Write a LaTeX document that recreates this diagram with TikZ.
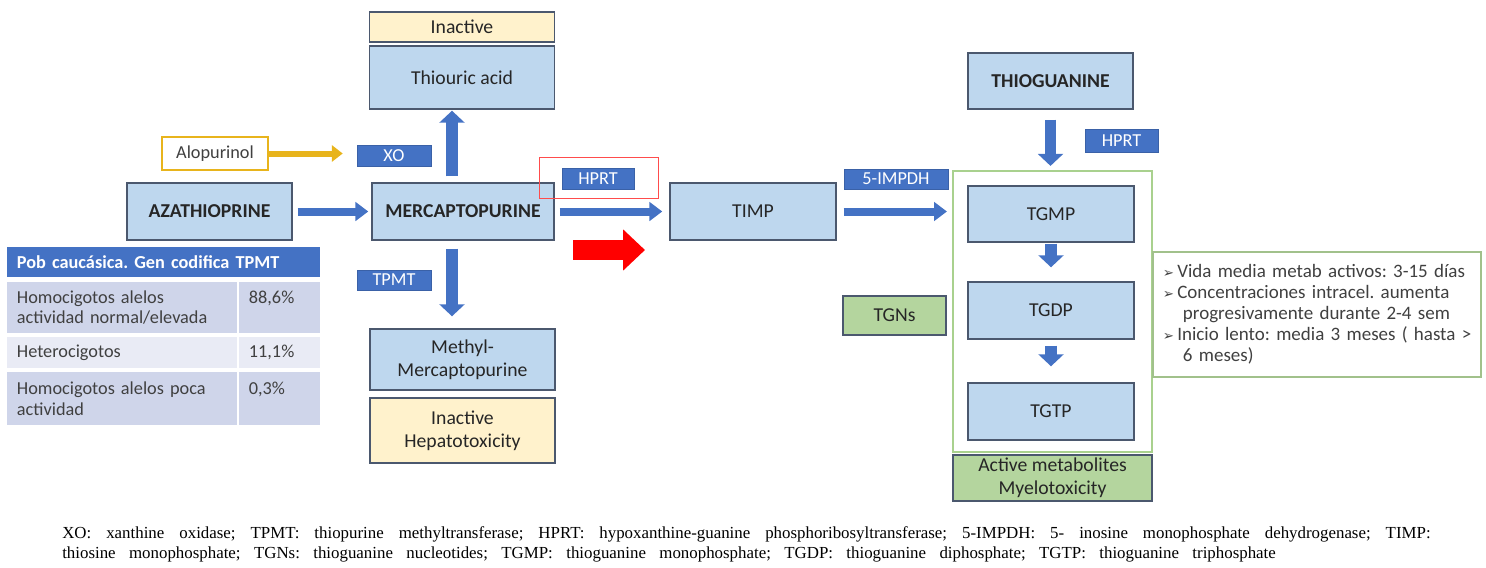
\documentclass[tikz,border=0pt]{standalone}
\usepackage{fontspec}
\setmainfont{Carlito}
\newfontfamily\notefont{Liberation Serif}
\newfontfamily\symfont{DejaVu Sans}
\usetikzlibrary{arrows.meta, positioning}
\definecolor{boxblue}{RGB}{190, 215, 238}
\definecolor{tagblue}{RGB}{68, 114, 196}
\definecolor{inactbg}{RGB}{255, 242, 204}
\definecolor{tgnfill}{RGB}{180, 213, 158}
\definecolor{framegreen}{RGB}{169, 209, 142}
\definecolor{edgegray}{RGB}{75, 88, 110}
\definecolor{alogold}{RGB}{232, 180, 28}
\definecolor{rowdark}{RGB}{207, 213, 234}
\definecolor{rowlight}{RGB}{233, 235, 245}
\frenchspacing

\begin{document}
\begin{tikzpicture}[x=0.025cm, y=-0.025cm,
  metab/.style={draw=edgegray, fill=boxblue, line width=1pt, inner sep=0pt, align=center, text=black!85, font=\fontsize{14}{16.5}\selectfont},
  inact/.style={metab, fill=inactbg},
  tgnbox/.style={metab, fill=tgnfill},
  enz/.style={draw=tagblue!85!black, fill=tagblue, text=white, inner sep=0pt, font=\fontsize{13}{13}\selectfont},
  flow/.style={draw=tagblue, line width=0.2cm, -{Triangle[length=0.32cm, width=0.46cm]}},
  vflow/.style={draw=tagblue, line width=0.28cm, -{Triangle[length=0.3cm, width=0.62cm]}},
  cell/.style={anchor=north west, inner xsep=0.24cm, inner ysep=0pt, align=left, text=black!75, font=\fontsize{13}{14.5}\selectfont}]
  \useasboundingbox (0,0) rectangle (1486,567);

  % xanthine oxidase branch
  \node[inact, minimum width=4.625cm, minimum height=0.75cm] (inact) at (462,27) {Inactive};
  \node[metab, minimum width=4.625cm, minimum height=1.575cm] (thiou) at (462,77.5) {Thiouric acid};
  \node[draw=alogold, fill=white, line width=0.8pt, minimum width=2.65cm, minimum height=0.825cm, text=black!75, font=\fontsize{13}{13}\selectfont] (alop) at (215,153.5) {Alopurinol};
  \node[enz, minimum width=1.85cm, minimum height=0.525cm] (xo) at (394,155.5) {XO};
  \draw[draw=alogold, line width=0.15cm, -{Triangle[length=0.27cm, width=0.4cm]}, shorten >=0.35cm] (alop.east) -- (alop.east -| xo.west);

  % main line
  \node[metab, font=\fontsize{14}{16.5}\selectfont\bfseries, minimum width=4.125cm, minimum height=1.425cm] (aza) at (209.5,211.5) {AZATHIOPRINE};
  \node[metab, font=\fontsize{14}{16.5}\selectfont\bfseries, minimum width=4.55cm, minimum height=1.425cm] (merc) at (463,211.5) {MERCAPTOPURINE};
  \node[metab, minimum width=4.15cm, minimum height=1.425cm] (timp) at (753,211.5) {TIMP};
  \draw[flow, shorten <=0.125cm, shorten >=0.075cm] (aza) -- (merc);
  \draw[flow, shorten <=0.125cm, shorten >=0.175cm] (merc) -- (timp);
  \draw[vflow, shorten <=0.15cm, shorten >=0.025cm] ([xshift=-0.275cm]merc.north) -- ([xshift=-0.275cm]merc.north |- thiou.south);
  \node[draw=red!70, line width=0.6pt, minimum width=2.975cm, minimum height=1.025cm] (hframe) at (598.5,177.5) {};
  \node[enz, minimum width=1.8cm, minimum height=0.525cm] (hprt) at (598,178.5) {HPRT};
  \draw[red, line width=0.5cm, -{Triangle[length=0.55cm, width=1.0cm]}] (573,250) -- (645,250);
  \node[enz, minimum width=2.6cm, minimum height=0.5cm] (impdh) at (896,179) {5-IMPDH};

  % TPMT branch
  \node[enz, minimum width=1.85cm, minimum height=0.5cm] (tpmt) at (394,280) {TPMT};
  \node[metab, minimum width=4.625cm, minimum height=1.525cm] (methyl) at (462.5,359.5) {Methyl-\\Mercaptopurine};
  \node[inact, minimum width=4.625cm, minimum height=1.625cm] (hepat) at (462.5,430.5) {Inactive\\Hepatotoxicity};
  \draw[vflow, shorten <=0.2cm, shorten >=0.3cm] ([xshift=-0.275cm]merc.south) -- ([xshift=-0.275cm]merc.south |- methyl.north);

  % thioguanine nucleotides
  \node[draw=framegreen, line width=1.5pt, minimum width=4.975cm, minimum height=7.025cm] (tgnframe) at (1052.5,311.5) {};
  \node[metab, font=\fontsize{14}{16.5}\selectfont\bfseries, minimum width=4.125cm, minimum height=1.4cm] (thiog) at (1050.5,81) {THIOGUANINE};
  \node[enz, minimum width=1.825cm, minimum height=0.575cm] (hprtb) at (1121.5,140.5) {HPRT};
  \node[metab, minimum width=4.15cm, minimum height=1.4cm] (tgmp) at (1051,214) {TGMP};
  \node[metab, minimum width=4.15cm, minimum height=1.425cm] (tgdp) at (1051,310.5) {TGDP};
  \node[metab, minimum width=4.15cm, minimum height=1.425cm] (tgtp) at (1051,411.5) {TGTP};
  \node[tgnbox, minimum width=2.575cm, minimum height=0.975cm] (tgns) at (894.5,315.5) {TGNs};
  \node[tgnbox, minimum width=4.975cm, minimum height=1.15cm] (active) at (1052.5,478) {Active metabolites\\Myelotoxicity};
  \draw[flow, shorten <=0.175cm, shorten >=0.125cm] (timp.east) -- (timp.east -| tgnframe.west);
  \draw[vflow, shorten <=0.25cm, shorten >=0.1cm] (thiog) -- (tgnframe.north -| thiog);
  \draw[vflow, shorten <=0.025cm, shorten >=0.35cm] (tgmp) -- (tgdp);
  \draw[vflow, shorten <=0.15cm, shorten >=0.4cm] (tgdp) -- (tgtp);

  % kinetics notes
  \node[draw=framegreen!80!gray, line width=0.8pt, fill=white, minimum width=8.2cm, minimum height=3.125cm, text width=7.9cm, inner xsep=0.15cm, align=left, text=black!75, font=\fontsize{13.5}{15}\selectfont] (notes) at (1317,314.5) {%
    \hspace*{0.1cm}{\symfont\fontsize{9.5}{9.5}\selectfont ➢}\,Vida media metab activos: 3-15 días\\
    \hspace*{0.1cm}{\symfont\fontsize{9.5}{9.5}\selectfont ➢}\,Concentraciones intracel. aumenta\\
    \hspace*{0.6cm}progresivamente durante 2-4 sem\\
    \hspace*{0.1cm}{\symfont\fontsize{9.5}{9.5}\selectfont ➢}\,Inicio lento: media 3 meses ( hasta >\\
    \hspace*{0.6cm}6 meses)};

  % TPMT table
  \node[cell, fill=tagblue, text=white, font=\fontsize{13}{14.5}\selectfont\bfseries, minimum width=7.825cm, minimum height=0.75cm, text width=7.345cm] (thead) at (7,247) {Pob caucásica. Gen codifica TPMT};
  \node[cell, fill=rowdark, minimum width=5.75cm, minimum height=1.275cm, text width=5.27cm] (r1a) at (7,282) {Homocigotos alelos\\actividad normal/elevada};
  \node[cell, fill=rowdark, minimum width=2.025cm, minimum height=1.275cm, text width=1.545cm] (r1b) at (239,282) {88,6\%\\\mbox{}};
  \node[cell, fill=rowlight, minimum width=5.75cm, minimum height=0.775cm, text width=5.27cm] (r2a) at (7,337) {Heterocigotos};
  \node[cell, fill=rowlight, minimum width=2.025cm, minimum height=0.775cm, text width=1.545cm] (r2b) at (239,337) {11,1\%};
  \node[cell, fill=rowdark, minimum width=5.75cm, minimum height=1.325cm, text width=5.27cm] (r3a) at (7,372) {Homocigotos alelos poca\\actividad};
  \node[cell, fill=rowdark, minimum width=2.025cm, minimum height=1.325cm, text width=1.545cm] (r3b) at (239,372) {0,3\%\\\mbox{}};

  % abbreviations
  \node[anchor=north west, align=left, inner sep=0pt, font=\notefont\fontsize{12}{14.2}\selectfont] (abbr) at (62,526) {%
    \makebox[34.2cm][s]{XO: xanthine oxidase; TPMT: thiopurine methyltransferase; HPRT: hypoxanthine-guanine phosphoribosyltransferase; 5-IMPDH: 5- inosine monophosphate dehydrogenase; TIMP:}\\
    \makebox[30.33cm][s]{thiosine monophosphate; TGNs: thioguanine nucleotides; TGMP: thioguanine monophosphate; TGDP: thioguanine diphosphate; TGTP: thioguanine triphosphate}};
\end{tikzpicture}
\end{document}
